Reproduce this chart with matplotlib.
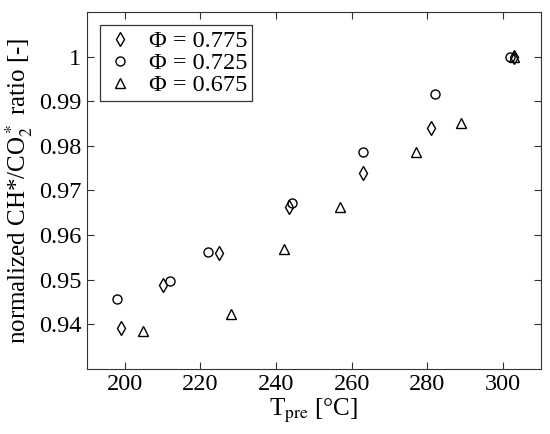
import matplotlib
matplotlib.use("Agg")
import matplotlib.pyplot as plt

plt.rcParams['font.family'] = ['Liberation Serif', 'DejaVu Serif']
plt.rcParams['mathtext.fontset'] = 'stix'

# data
t_0775 = [199.0, 210.0, 225.0, 243.3, 263.0, 281.0, 302.8]
r_0775 = [0.9392, 0.9489, 0.9560, 0.9663, 0.9740, 0.9840, 1.0]

t_0725 = [198.0, 212.0, 221.9, 244.2, 263.0, 282.1, 301.7]
r_0725 = [0.9457, 0.9498, 0.9562, 0.9672, 0.9785, 0.9917, 1.0]

t_0675 = [204.9, 228.0, 242.0, 257.0, 277.0, 289.0, 302.8]
r_0675 = [0.9386, 0.9424, 0.9568, 0.9663, 0.9786, 0.9851, 1.0]

labels = ['Φ = 0.775', 'Φ = 0.725', 'Φ = 0.675']
xticks = [200, 220, 240, 260, 280, 300]
yticks = [0.94, 0.95, 0.96, 0.97, 0.98, 0.99, 1.0]
yticklabels = ['0.94', '0.95', '0.96', '0.97', '0.98', '0.99', '1']

fig = plt.figure(figsize=(5.5, 4.34), dpi=100)
ax = fig.add_axes([0.158, 0.150, 0.8255, 0.8226])

ax.plot(t_0775, r_0775, 'd', mfc='white', mec='black', mew=1.0, ms=7, label=labels[0])
ax.plot(t_0725, r_0725, 'o', mfc='none', mec='black', mew=1.0, ms=6.5, label=labels[1])
ax.plot(t_0675, r_0675, '^', mfc='none', mec='black', mew=1.0, ms=7, label=labels[2])

ax.set(
    xlim=(190, 310),
    ylim=(0.93, 1.01),
)
ax.set_xticks(xticks)
ax.set_yticks(yticks)
ax.set_yticklabels(yticklabels)
ax.tick_params(direction='in', top=True, right=True, length=5, labelsize=17.5,
               color='#333333', pad=4)
for s in ax.spines.values():
    s.set_color('#333333')

ax.set_xlabel(r'T$_{\rm pre}$ [°C]', fontsize=18, labelpad=1)
ax.set_ylabel(r'normalized CH*/CO$_2^*$ ratio [-]', fontsize=18, labelpad=3)

leg = ax.legend(loc='upper left', fontsize=17.5, frameon=True, fancybox=False,
                handletextpad=0.6, labelspacing=0.0, borderpad=0.2,
                borderaxespad=0.55, handlelength=1.2)
leg.get_frame().set_edgecolor('black')
leg.get_frame().set_linewidth(0.9)

fig.savefig('out.png', dpi=100)
